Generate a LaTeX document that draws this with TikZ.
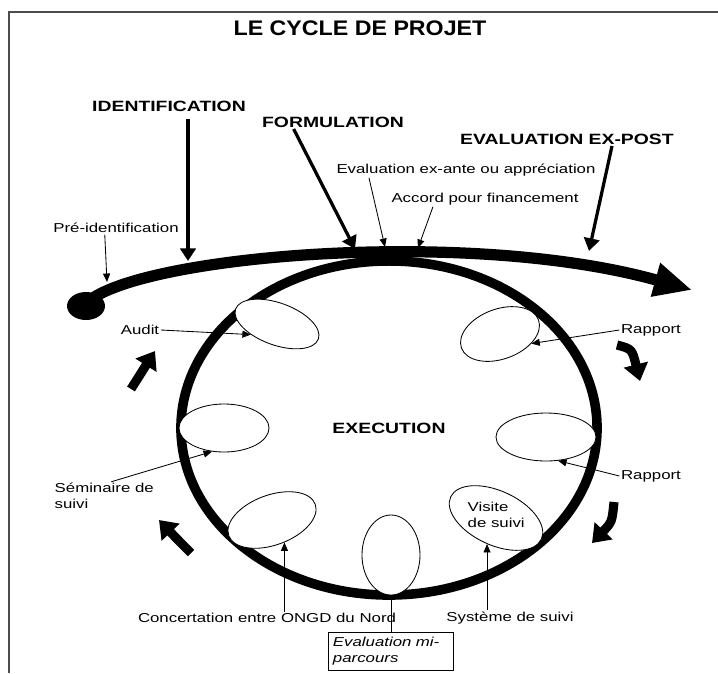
\documentclass[tikz,border=0pt]{standalone}
\usepackage{fontspec}
\setmainfont{Liberation Sans}[FakeStretch=1.3]
\newfontfamily\ttlfont{Liberation Sans}[FakeStretch=1.1]
\usetikzlibrary{arrows.meta,shapes.geometric,positioning}

\begin{document}
\begin{tikzpicture}[x=0.025cm,y=-0.025cm,
	lbl/.style={inner sep=1pt,font=\fontsize{9.2}{11}\selectfont},
	phase/.style={inner sep=1pt,font=\fontsize{10.6}{13}\selectfont\bfseries},
	bubble/.style={draw,ellipse,fill=white,line width=0.6pt,inner sep=0pt},
	pointer/.style={line width=0.6pt,-{Triangle[length=6pt,width=5pt]}},
	bigpointer/.style={line width=2.3pt,-{Triangle[length=9pt,width=11pt]}},
	turn/.style={line width=6.5pt,-{Triangle[length=12pt,width=17pt]}}]
	\useasboundingbox (0,0) rectangle (718,673);
	
	% frame
	\draw[line width=1.4pt,gray!60!black] (718,12) -- (9,12) -- (9,673);
	\node[font=\ttlfont\fontsize{15}{18}\selectfont\bfseries] (title) at (360,28) {LE CYCLE DE PROJET};
	
	% execution ring
	\node[draw,ellipse,line width=6.8pt,minimum width=10.4cm,minimum height=8.35cm,
		font=\fontsize{10.6}{13}\selectfont\bfseries] (cycle) at (389,428) {EXECUTION};
	
	% bubbles on the ring
	\node[bubble,minimum width=2.2cm,minimum height=1.05cm,rotate=-20] (eAud) at (277,324) {};
	\node[bubble,minimum width=2.05cm,minimum height=1.25cm,rotate=20] (eRap1) at (500,334) {};
	\node[bubble,minimum width=2.25cm,minimum height=1.2cm] (eSem) at (224,428) {};
	\node[bubble,minimum width=2.5cm,minimum height=1.2cm] (eRap2) at (546,437) {};
	\node[bubble,minimum width=2.3cm,minimum height=1.25cm,rotate=20] (eConc) at (272,520) {};
	\node[bubble,minimum width=1.45cm,minimum height=2cm] (eMid) at (391,555) {};
	\node[bubble,minimum width=2.5cm,minimum height=1.35cm,rotate=-25] (eVis) at (496,518) {};
	\node[lbl,align=left,anchor=west] (visit) at (466,515) {Visite\\de suivi};
	
	% main line of the cycle
	\coordinate (start) at (90,300);
	\coordinate (tip) at (692,290);
	\fill (86,306) ellipse [x radius=19,y radius=14];
	\draw[line width=8pt,-{Triangle[length=27pt,width=23pt]}] (start) .. controls (150,255) and (470,228) .. (tip);
	
	% phases
	\node[phase] (ident) at (169,106) {IDENTIFICATION};
	\node[phase] (formul) at (333,122) {FORMULATION};
	\node[phase] (expost) at (567,139) {EVALUATION EX-POST};
	\coordinate (pIdent) at (188,261);
	\coordinate (pForm) at (355,249);
	\coordinate (pExpost) at (589,251);
	\draw[bigpointer,shorten <=4pt] (pIdent |- ident.south) -- (pIdent);
	\draw[bigpointer] ([xshift=-28pt]formul.south) -- (pForm);
	\draw[bigpointer] ([xshift=32pt]expost.south) -- (pExpost);
	
	% steps on the line
	\node[lbl] (exante) at (466,170) {Evaluation ex-ante ou appréciation};
	\node[lbl] (accord) at (485,199) {Accord pour financement};
	\node[lbl] (preid) at (116,228) {Pré-identification};
	\coordinate (pExante) at (385,247);
	\coordinate (pAccord) at (418,248);
	\coordinate (pPre) at (107,282);
	\draw[pointer] ([xshift=-69pt]exante.south) -- (pExante);
	\draw[pointer] ([xshift=-37pt]accord.south) -- (pAccord);
	\draw[pointer] ([xshift=-8pt]preid.south) -- (pPre);
	
	% follow-up labels
	\node[lbl] (audit) at (140,330) {Audit};
	\node[lbl] (rap1) at (651,330) {Rapport};
	\node[lbl] (rap2) at (651,476) {Rapport};
	\node[lbl,align=left,anchor=west] (semin) at (53,496) {Séminaire de\\suivi};
	\node[lbl] (conc) at (267,618) {Concertation entre ONGD du Nord};
	\node[lbl] (sysv) at (510,618) {Système de suivi};
	\node[draw,line width=0.6pt,inner xsep=3pt,text width=2.9cm,minimum height=0.95cm,align=left,
		font=\fontsize{9.2}{11}\selectfont\itshape] (mid) at (391,651) {Evaluation mi-\\parcours};
	\draw[pointer] (audit.east) -- (eAud.222);
	\draw[pointer] (rap1.west) -- (eRap1.-37);
	\draw[pointer] (rap2.west) -- (eRap2.-63);
	\draw[pointer] ([xshift=5pt]semin.north) -- (eSem.-117);
	\draw[pointer] (eConc.-81 |- conc.north) -- (eConc.-81);
	\draw[pointer] (eVis.-84 |- sysv.north) -- (eVis.-84);
	\draw[line width=0.6pt] (eMid.south |- mid.north) -- (eMid.south);
	
	% turning arrows
	\coordinate (ul0) at (131,389);
	\coordinate (ul1) at (155,351);
	\coordinate (ll0) at (191,553);
	\coordinate (ll1) at (159,520);
	\coordinate (ur0) at (617,345);
	\coordinate (ur1) at (640,381);
	\coordinate (lr0) at (614,502);
	\coordinate (lr1) at (592,543);
	\draw[turn] (ul0) -- (ul1);
	\draw[turn] (ll0) .. controls (178,540) .. (ll1);
	\draw[turn] (ur0) .. controls (632,349) .. (ur1);
	\draw[turn] (lr0) .. controls (612,522) .. (lr1);
\end{tikzpicture}
\end{document}
